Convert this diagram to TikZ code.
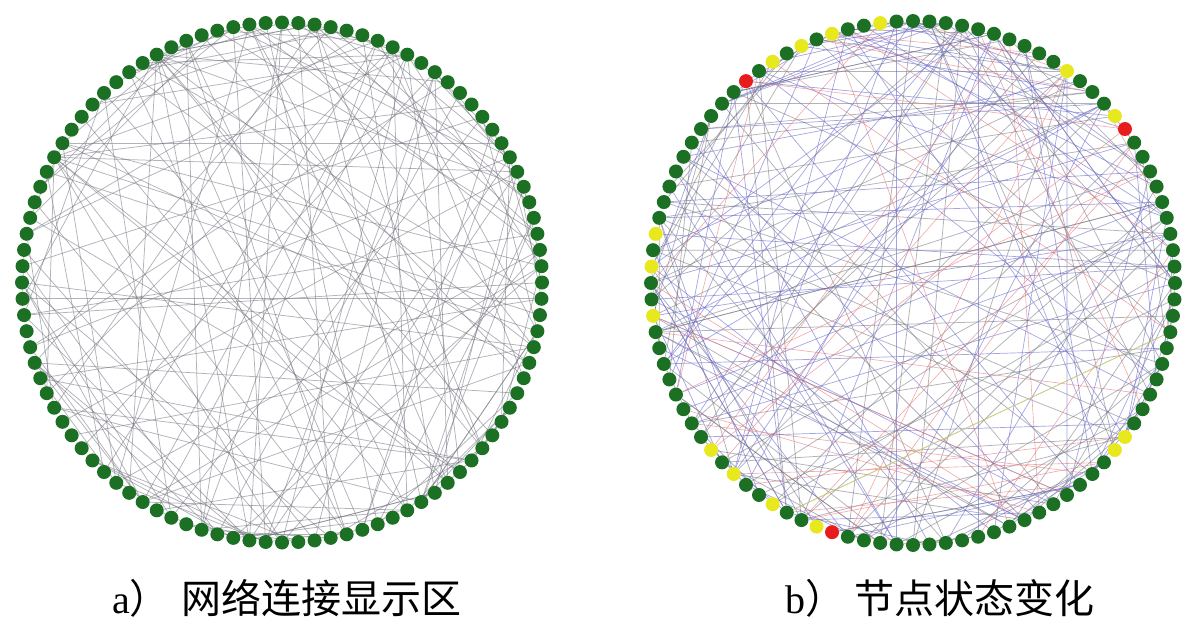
\documentclass[tikz,border=0pt]{standalone}
\usepackage{fontspec}
\setmainfont{Liberation Serif}
\newfontfamily\cjk{Noto Sans CJK SC}
\usetikzlibrary{backgrounds}
\definecolor{dotgreen}{RGB}{28,112,36}
\definecolor{dotyellow}{RGB}{232,232,30}
\definecolor{dotred}{RGB}{232,28,28}
\definecolor{edgegray}{RGB}{115,115,128}
\definecolor{edgeblue}{RGB}{105,105,205}
\definecolor{edgered}{RGB}{232,120,120}
\definecolor{edgeyellow}{RGB}{225,225,90}
\tikzset{
  dot/.style={circle,fill=dotgreen,draw=none,inner sep=0pt,minimum size=14pt},
  ledge/.style={draw=edgegray,line width=0.75pt,draw opacity=0.55},
  gedge/.style={draw=edgegray,line width=0.75pt,draw opacity=0.55},
  bedge/.style={draw=edgeblue,line width=0.7pt,draw opacity=0.6},
  redge/.style={draw=edgered,line width=0.6pt,draw opacity=0.65},
  yedge/.style={draw=edgeyellow,line width=0.6pt,draw opacity=0.8},
  caption/.style={inner sep=0pt,anchor=west,font=\fontsize{40}{48}\selectfont},
  cjkcap/.style={inner sep=0pt,anchor=west,font=\cjk\fontsize{40}{48}\selectfont},
  rc10/.style={fill=dotred}, rc36/.style={fill=dotred}, rc70/.style={fill=dotred},
  rc11/.style={fill=dotyellow}, rc15/.style={fill=dotyellow}, rc27/.style={fill=dotyellow},
  rc30/.style={fill=dotyellow}, rc32/.style={fill=dotyellow}, rc34/.style={fill=dotyellow},
  rc47/.style={fill=dotyellow}, rc49/.style={fill=dotyellow}, rc52/.style={fill=dotyellow},
  rc61/.style={fill=dotyellow}, rc63/.style={fill=dotyellow}, rc66/.style={fill=dotyellow},
  rc69/.style={fill=dotyellow}, rc89/.style={fill=dotyellow}, rc90/.style={fill=dotyellow}
}
\begin{document}
\begin{tikzpicture}[x=1pt,y=-1pt]
\useasboundingbox (0,0) rectangle (1200,632);
% left ring
\foreach \i in {0,...,99}{
  \pgfmathsetmacro\ang{3.6*\i}
  \node[dot] (L\i) at ({282+260*cos(\ang)},{282.5-260*sin(\ang)}) {};
}
% right ring
\foreach \i in {0,...,99}{
  \pgfmathsetmacro\ang{3.6*\i}
  \node[dot,rc\i/.try] (R\i) at ({913+262*cos(\ang)},{283-262*sin(\ang)}) {};
}
\begin{pgfonlayer}{background}
\pgfmathsetseed{4711}
\foreach \e in {1,...,170}{
  \pgfmathtruncatemacro\a{random(0,99)}
  \pgfmathtruncatemacro\t{random(0,2)}
  \ifnum\t=0 \pgfmathtruncatemacro\d{random(3,18)}\else\pgfmathtruncatemacro\d{random(19,50)}\fi
  \pgfmathtruncatemacro\b{mod(\a+\d,100)}
  \draw[ledge] (L\a) -- (L\b);
}
\draw[ledge] (L50) -- (L96);
\pgfmathsetseed{2024}
\foreach \e in {1,...,230}{
  \pgfmathtruncatemacro\a{random(0,99)}
  \pgfmathtruncatemacro\t{random(0,2)}
  \ifnum\t=0 \pgfmathtruncatemacro\d{random(3,18)}\else\pgfmathtruncatemacro\d{random(19,50)}\fi
  \pgfmathtruncatemacro\b{mod(\a+\d,100)}
  \pgfmathtruncatemacro\c{random(1,100)}
  \ifnum\c<48 \draw[bedge] (R\a) -- (R\b);
  \else\ifnum\c<89 \draw[gedge] (R\a) -- (R\b);
  \else \draw[redge] (R\a) -- (R\b);\fi\fi
}
\draw[yedge] (R67) -- (R97);
\end{pgfonlayer}
% captions
\node[caption] (ca) at (112,598) {a\cjk ）};
\node[cjkcap] (ta) at (181,598) {网络连接显示区};
\node[caption] (cb) at (785,598) {b\cjk ）};
\node[cjkcap] (tb) at (854,598) {节点状态变化};
\end{tikzpicture}
\end{document}
